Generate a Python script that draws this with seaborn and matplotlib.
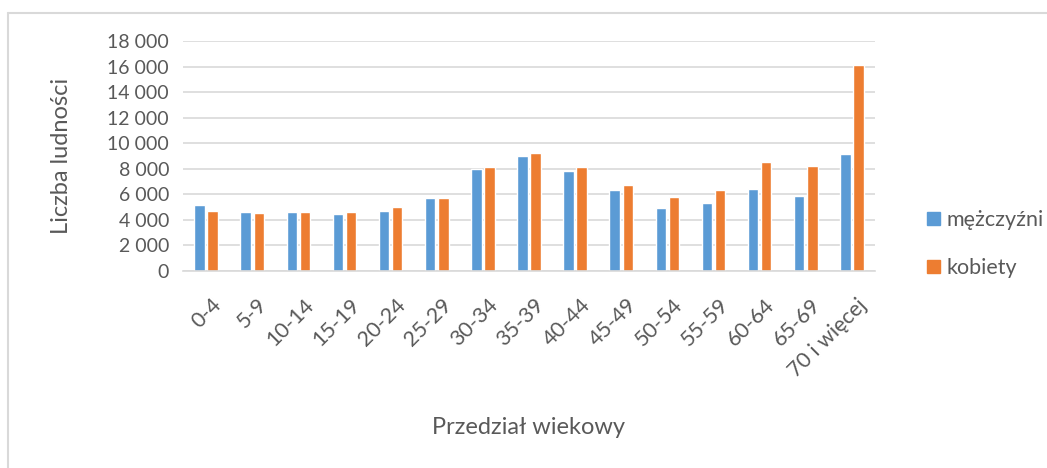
import numpy as np
import pandas as pd
import matplotlib
matplotlib.use("Agg")
import matplotlib.pyplot as plt
import seaborn as sns
from matplotlib.lines import Line2D
from matplotlib.ticker import FuncFormatter
from matplotlib.transforms import ScaledTranslation

# age groups and population counts
groups = ["0-4", "5-9", "10-14", "15-19", "20-24", "25-29", "30-34", "35-39",
          "40-44", "45-49", "50-54", "55-59", "60-64", "65-69", "70 i więcej"]
men = [5150, 4600, 4650, 4500, 4700, 5700, 7950, 8980, 7800,
       6350, 4920, 5300, 6450, 5900, 9180]
women = [4700, 4550, 4600, 4650, 5000, 5700, 8170, 9270, 8140,
         6720, 5800, 6350, 8520, 8210, 16150]
series = ["mężczyźni", "kobiety"]
colors = ["#5B9BD5", "#ED7D31"]

df = pd.DataFrame({
    "grupa": groups * 2,
    "liczba": men + women,
    "płeć": [series[0]] * len(groups) + [series[1]] * len(groups),
})

sns.set_style("white")
plt.rcParams["font.family"] = ["Lato", "DejaVu Sans"]
grey = "#595959"

fig = plt.figure(figsize=(10.47, 4.68), dpi=100)
ax = fig.add_axes([183 / 1047, 1 - 271 / 468, (875 - 183) / 1047, (271 - 41) / 468])

sns.barplot(data=df, x="grupa", y="liczba", hue="płeć", order=groups,
            hue_order=series, palette=colors, saturation=1,
            width=0.57, gap=0.2, ax=ax, legend=False, errorbar=None)

ax.set_ylim(0, 18000)
ax.set_xlim(-0.5, len(groups) - 0.5)
ax.set_yticks(np.arange(0, 18001, 2000))
ax.yaxis.set_major_formatter(FuncFormatter(lambda v, p: f"{int(v):,}".replace(",", " ")))
ax.grid(axis="y", color="#D9D9D9", linewidth=1.2)
ax.set_axisbelow(True)
for s in ["top", "right", "left"]:
    ax.spines[s].set_visible(False)
ax.spines["bottom"].set_color("#D9D9D9")
ax.spines["bottom"].set_linewidth(1.2)
ax.tick_params(axis="both", length=0, colors=grey)
ax.tick_params(axis="y", pad=10, labelsize=14)
ax.tick_params(axis="x", pad=17, labelsize=15.5)
shift = ScaledTranslation(5 / 100, 0, fig.dpi_scale_trans)
for lbl in ax.get_xticklabels():
    lbl.set_rotation(45)
    lbl.set_ha("right")
    lbl.set_rotation_mode("anchor")
    lbl.set_transform(lbl.get_transform() + shift)

ax.set_xlabel("")
ax.set_ylabel("")
fig.text(62 / 1047, 1 - 156 / 468, "Liczba ludności", rotation=90, ha="center",
         va="center", fontsize=17, color=grey)
fig.text(529 / 1047, 1 - 427 / 468, "Przedział wiekowy", ha="center",
         va="center", fontsize=17, color=grey)

handles = [plt.Rectangle((0, 0), 1, 1, color=c) for c in colors]
fig.legend(handles, series, loc="center left", bbox_to_anchor=(908 / 1047, 1 - 244 / 468),
           frameon=False, fontsize=15.5, labelcolor=grey, handlelength=0.6,
           handleheight=0.6, handletextpad=0.3, labelspacing=1.3)

# chart frame (only top and left edges visible)
fig.add_artist(Line2D([8 / 1047, 1], [1 - 13 / 468] * 2, color="#D9D9D9", lw=1.5))
fig.add_artist(Line2D([8 / 1047] * 2, [0, 1 - 13 / 468], color="#D9D9D9", lw=1.5))

fig.savefig("out.png", dpi=100)
